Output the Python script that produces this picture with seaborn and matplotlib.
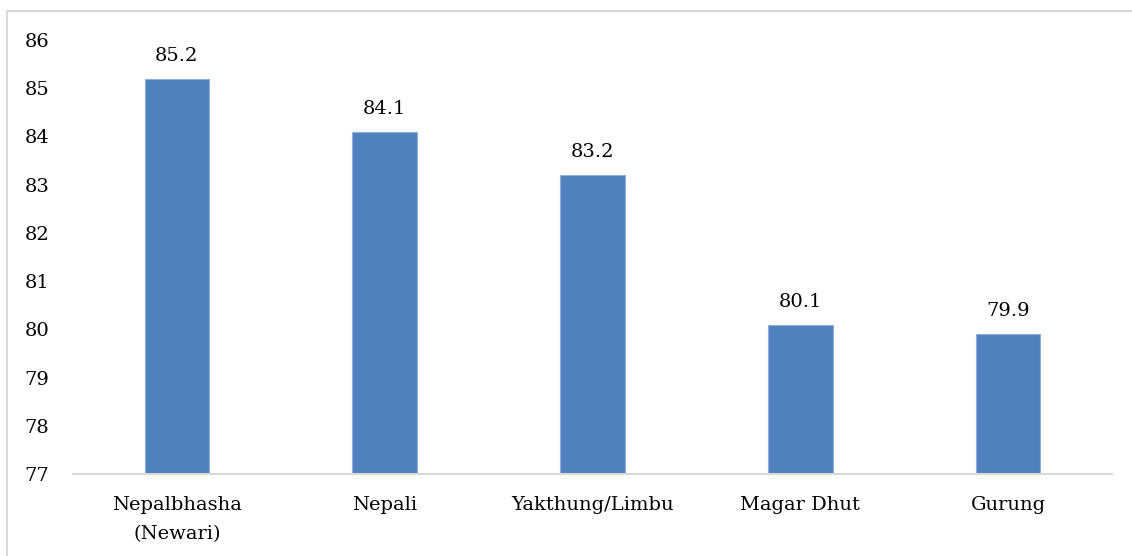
import matplotlib
matplotlib.use("Agg")
import matplotlib.pyplot as plt
import seaborn as sns
import pandas as pd
from matplotlib.patches import Rectangle

categories = ["Nepalbhasha\n(Newari)", "Nepali", "Yakthung/Limbu", "Magar Dhut", "Gurung"]
values = [85.2, 84.1, 83.2, 80.1, 79.9]
yticks = [77, 78, 79, 80, 81, 82, 83, 84, 85, 86]

sns.set_theme(style="white")
plt.rcParams['font.family'] = ['DejaVu Serif']

df = pd.DataFrame({"cat": categories, "val": values})

fig = plt.figure(figsize=(11.32, 5.56), dpi=100)
ax = fig.add_axes([73/1132, (556-474)/556, (1112-73)/1132, (474-40)/556])

sns.barplot(data=df, x="cat", y="val", color="#4F81BD", saturation=1, width=0.31,
            edgecolor="#8FAFD8", linewidth=0.8, ax=ax)

ax.set_ylim(77, 86)
ax.set_xlim(-0.5, 4.5)
ax.set_yticks(yticks)
ax.set_xlabel("")
ax.set_ylabel("")

for c in ax.containers:
    ax.bar_label(c, labels=[f"{v:.1f}" for v in values], padding=10, fontsize=14, color="#000000")

for s in ["top", "right", "left"]:
    ax.spines[s].set_visible(False)
ax.spines["bottom"].set_color("#d9d9d9")
ax.spines["bottom"].set_linewidth(1.5)
ax.tick_params(axis="y", length=0, pad=17, labelsize=14, colors="#000000")
ax.tick_params(axis="x", length=0, pad=16, labelsize=14, colors="#000000")
for lbl in ax.get_xticklabels():
    lbl.set_linespacing(1.8)

fig.patches.append(Rectangle((7/1132, -0.1), 1.2, (556-11)/556 + 0.1,
                             transform=fig.transFigure, fill=False,
                             edgecolor="#d9d9d9", linewidth=1.5))

fig.savefig("out.png", dpi=100)
